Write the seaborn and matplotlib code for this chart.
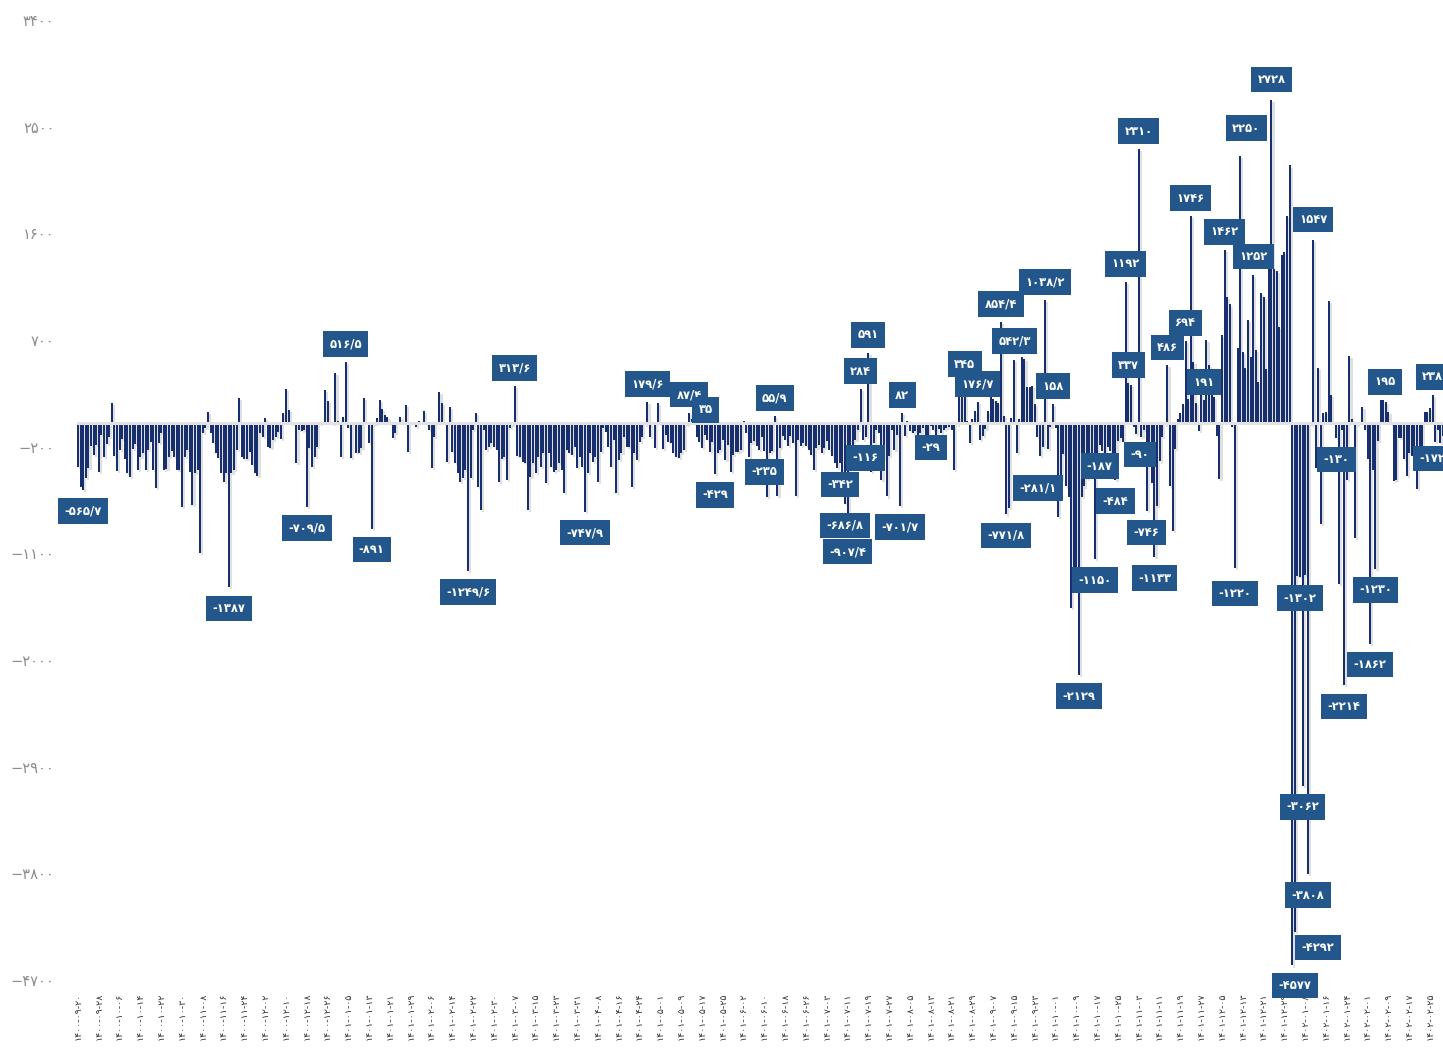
import matplotlib
matplotlib.use("Agg")
import matplotlib.pyplot as plt
import matplotlib.patheffects as pe
import pandas as pd
import seaborn as sns

# daily net flow (one value per bar)
flow_part1 = [
    -368, -537, -565.7, -466, -382, -194, -270, -185, -410, -101,
    -284, -177, -120, 166, -278, -405, -228, -138, -306, -424,
    -458, -222, -177, -396, -289, -256, -396, -228, -157, -396,
    -551, -171, -87, -396, -390, -289, -236, -289, -396, -396,
    -705, -289, -228, -410, -691, -424, -396, -1096, -87, -40,
    96, -87, -171, -256, -298, -424, -495, -424, -1387, -424,
    -396, -228, 208, -289, -306, -300, -242, -354, -424, -447,
    -87, -115, 39, -200, -214, -143, -115, -73, -138, 82,
    284, 110, -10, -20, -340, -60, -70, -60, -709.5, -214,
    -374, -290, -200, -10, 11, 278, 185, 0, -5, 424,
]
flow_part2 = [
    20, -284, 48, 516.5, -40, -298, -20, -250, -250, -214,
    208, -20, -171, -891, -10, 39, 194, 118, 67, 48,
    -10, -129, -87, 0, 48, 0, 152, -242, 0, 5,
    -31, 20, 0, 104, -20, -59, -382, -115, 0, 258,
    171, -20, -326, 132, -242, -340, -420, -495, -467, -396,
    -1249.6, -467, -60, 87, -537, -733, -59, -228, -200, -171,
    -200, -228, -495, -300, -284, -480, -45, -20, 313.6, -280,
    -284, -326, -340, -733, -452, -340, -424, -284, -368, -256,
    -508, -256, -368, -410, -396, -340, -396, -593, -228, -256,
    -270, -200, -382, -284, -368, -747.9, -424, -256, -326, -284,
]
flow_part3 = [
    -495, -242, -45, -73, -200, -368, -143, -593, -312, -256,
    -115, -200, -200, -537, -256, -312, -157, -115, -20, 179.6,
    -115, -10, -213, 166, -10, -222, -101, -157, -171, -256,
    -289, -298, -256, -228, -20, 87.4, 35, -10, -115, -157,
    -213, -101, -143, -242, -157, -429, -256, -228, -143, -312,
    -185, -410, -270, -242, -242, -228, 20, -87, -284, -171,
    -150, -197, -225, -120, -235, -621, -256, -240, 55.9, -615,
    -211, -112, -140, -197, -112, -169, -618, -140, -197, -169,
    -197, -225, -267, -393, -211, -183, -253, -211, -155, -225,
    -281, -337, -379, -342, -421, -686.8, -907.4, -197, -197, -140,
]
flow_part4 = [
    -56, 284, -140, -116, 591, -410, -169, -56, -84, -478,
    -300, -620, -281, -56, -225, -100, -701.7, 82, -112, 15,
    -70, -84, -70, -98, -84, -42, -112, -112, -29, -60,
    -112, -50, -84, -60, -40, -30, -60, -396, -20, 222,
    222, 345, 20, -169, 30, 100, 176.7, -143, -112, -50,
    100, 217, 202, 187, 172, 854.4, 60, -771.8, -720, 40,
    533, -250, 36, 560, 542.3, 300, 307, 313, 163, -120,
    -281.1, -205, 1038.2, -220, -30, 158, -40, -793, -476, -265,
    -536, -627, -1561, -1227, -1378, -2129, -627, -536, -476, -325,
    -280, -1150, -265, -187, -235, -250, -205, -235, -260, -484,
]
flow_part5 = [
    -150, -130, -160, 1192, 337, 320, -30, -90, 2310, -115,
    -60, -746, -325, -506, -1133, -700, -325, -115, -20, 486,
    -536, -913, -220, 30, 81, 157, 694, 200, 1746, 518,
    172, -69, 444, 191, 703, 487, 420, 223, -110, -470,
    740, 1462, 1062, 1000, -30, -1220, 630, 2250, 600, 463,
    869, 560, 1252, 615, 343, 1095, 1060, 453, 1373, 2728,
    1300, 1280, 807, 1420, 1440, 1747, 2173, -4577, -4292, -1290,
    -1302, -3062, -1280, -3808, -20, 1547, -376, 463, -855, 80,
    90, 1028, 233, -10, -130, -1360, -60, -2214, -480, 568,
    30, -973, -20, 0, 138, -60, -303, -1862, -400, -1230,
]
flow_part6 = [
    -150, 195, 190, 180, 90, -20, -493, -480, -130, -130,
    -303, -446, -250, -275, -275, -555, -250, -300, 90, 90,
    130, 238, -160, -60, -172, -110,
]

# bars that carry a value box
labelled_bars = [
    2, 58, 88, 103, 113, 150, 168, 195, 219, 235, 236, 245, 264, 268,
    293, 295, 296, 301, 303, 304, 316, 317, 328, 341, 346, 355, 357,
    364, 370, 372, 375, 385, 391, 393, 399, 403, 404, 407, 408, 411,
    414, 419, 426, 428, 433, 441, 445, 447, 452, 459, 467, 468, 470,
    471, 473, 475, 484, 487, 497, 499, 501, 521, 524,
]

date_labels = [
    "۱۴۰۰-۰۹-۲۰", "۱۴۰۰-۰۹-۲۸", "۱۴۰۰-۱۰-۰۶", "۱۴۰۰-۱۰-۱۴", "۱۴۰۰-۱۰-۲۲",
    "۱۴۰۰-۱۰-۳۰", "۱۴۰۰-۱۱-۰۸", "۱۴۰۰-۱۱-۱۶", "۱۴۰۰-۱۱-۲۴", "۱۴۰۰-۱۲-۰۲",
    "۱۴۰۰-۱۲-۱۰", "۱۴۰۰-۱۲-۱۸", "۱۴۰۰-۱۲-۲۶", "۱۴۰۱-۰۱-۰۵", "۱۴۰۱-۰۱-۱۳",
    "۱۴۰۱-۰۱-۲۱", "۱۴۰۱-۰۱-۲۹", "۱۴۰۱-۰۲-۰۶", "۱۴۰۱-۰۲-۱۴", "۱۴۰۱-۰۲-۲۲",
    "۱۴۰۱-۰۲-۳۰", "۱۴۰۱-۰۳-۰۷", "۱۴۰۱-۰۳-۱۵", "۱۴۰۱-۰۳-۲۳", "۱۴۰۱-۰۳-۳۱",
    "۱۴۰۱-۰۴-۰۸", "۱۴۰۱-۰۴-۱۶", "۱۴۰۱-۰۴-۲۴", "۱۴۰۱-۰۵-۰۱", "۱۴۰۱-۰۵-۰۹",
    "۱۴۰۱-۰۵-۱۷", "۱۴۰۱-۰۵-۲۵", "۱۴۰۱-۰۶-۰۲", "۱۴۰۱-۰۶-۱۰", "۱۴۰۱-۰۶-۱۸",
    "۱۴۰۱-۰۶-۲۶", "۱۴۰۱-۰۷-۰۳", "۱۴۰۱-۰۷-۱۱", "۱۴۰۱-۰۷-۱۹", "۱۴۰۱-۰۷-۲۷",
    "۱۴۰۱-۰۸-۰۵", "۱۴۰۱-۰۸-۱۳", "۱۴۰۱-۰۸-۲۱", "۱۴۰۱-۰۸-۲۹", "۱۴۰۱-۰۹-۰۷",
    "۱۴۰۱-۰۹-۱۵", "۱۴۰۱-۰۹-۲۳", "۱۴۰۱-۱۰-۰۱", "۱۴۰۱-۱۰-۰۹", "۱۴۰۱-۱۰-۱۷",
    "۱۴۰۱-۱۰-۲۵", "۱۴۰۱-۱۱-۰۳", "۱۴۰۱-۱۱-۱۱", "۱۴۰۱-۱۱-۱۹", "۱۴۰۱-۱۱-۲۷",
    "۱۴۰۱-۱۲-۰۵", "۱۴۰۱-۱۲-۱۳", "۱۴۰۱-۱۲-۲۱", "۱۴۰۱-۱۲-۲۹", "۱۴۰۲-۰۱-۰۸",
    "۱۴۰۲-۰۱-۱۶", "۱۴۰۲-۰۱-۲۴", "۱۴۰۲-۰۲-۰۱", "۱۴۰۲-۰۲-۰۹", "۱۴۰۲-۰۲-۱۷",
    "۱۴۰۲-۰۲-۲۵",
]

y_ticks = [3400, 2500, 1600, 700, -200, -1100, -2000, -2900, -3800, -4700]

# styling
BAR = "#172f6e"
BOX = "#23568b"
FA = str.maketrans("0123456789.", "۰۱۲۳۴۵۶۷۸۹/")

# box nudges (pixels) where the box is not straight above / below its bar
box_nudge = {
    236: (14, 9), 370: (-2, -32), 364: (-10, 18), 468: (23, -16),
    447: (6, 28), 445: (0, -26), 407: (4, -21), 467: (3, -20),
    501: (4, 18), 524: (-8, -15), 475: (0, 20), 459: (0, 20),
}


def fa_num(v):
    return f"{v:g}".translate(FA)


values = flow_part1 + flow_part2 + flow_part3 + flow_part4 + flow_part5 + flow_part6
df = pd.DataFrame({"day": range(len(values)), "flow": values})
n = len(df)

sns.set_theme(style="white")
plt.rcParams["font.family"] = ["DejaVu Sans"]

fig = plt.figure(figsize=(14.43, 10.48), dpi=100)
ax = fig.add_axes([76.7 / 1443, 68 / 1048, 2.6 * n / 1443, 960 / 1048])

sns.barplot(data=df, x="day", y="flow", color=BAR, saturation=1,
            width=0.8, errorbar=None, linewidth=0, edgecolor=BAR, ax=ax)
for p in ax.patches:
    p.set_path_effects([pe.SimplePatchShadow(offset=(1.5, -1.5), shadow_rgbFace="0.6", alpha=0.3),
                        pe.Normal()])

ax.axhline(0, color="#e2e2e2", lw=2.2, zorder=3)

ax.set_xlim(-0.5, n - 0.5)
ax.set_ylim(-4700, 3400)
ax.set_yticks(y_ticks)
ax.set_yticklabels([f"{t:g}".translate(FA).replace("-", "\u2212") for t in y_ticks],
                   color="#8c8c8c", fontsize=10.5)
ax.set_xticks(range(0, n, 8))
ax.set_xticklabels(date_labels, rotation=90, fontsize=6.8, color="#333333")
ax.tick_params(axis="both", length=0)
ax.tick_params(axis="y", pad=16)
ax.tick_params(axis="x", pad=9)
ax.set_xlabel("")
ax.set_ylabel("")
sns.despine(ax=ax, left=True, bottom=True)

for i in labelled_bars:
    v = values[i]
    dx, dy = box_nudge.get(i, (0, 18 if v > 0 else -21))
    ax.annotate(fa_num(v), xy=(i, v), xytext=(dx, dy), textcoords="offset pixels",
                ha="center", va="center", color="white", fontsize=8.3, fontweight="bold",
                bbox=dict(boxstyle="square,pad=0.55", fc=BOX, ec="none"),
                zorder=6, annotation_clip=False)

fig.savefig("out.png", dpi=100)
